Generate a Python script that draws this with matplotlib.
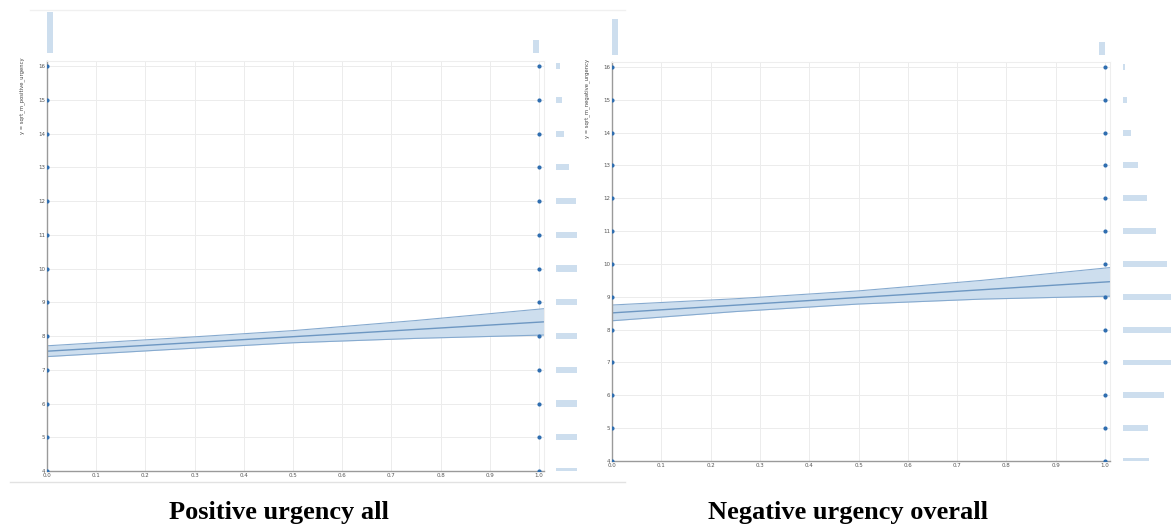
import matplotlib.pyplot as plt
from matplotlib.lines import Line2D

W, H = 1171, 527

# data
levels = [4, 5, 6, 7, 8, 9, 10, 11, 12, 13, 14, 15, 16]
group_x = [0, 1]
band_x = [0, 0.25, 0.5, 0.75, 1.01]

pos_fit = [7.55, 7.765, 7.98, 8.195, 8.42]
pos_lo = [7.39, 7.60, 7.80, 7.93, 8.03]
pos_hi = [7.71, 7.93, 8.16, 8.46, 8.81]
pos_group_counts = [315, 100]
pos_level_counts = [24, 26, 28, 30, 30, 28, 26, 23, 20, 13, 8, 6, 4]
pos_label = "y = sqrt_m_positive_urgency"
pos_title = "Positive urgency all"

neg_fit = [8.51, 8.745, 8.98, 9.215, 9.46]
neg_lo = [8.27, 8.55, 8.78, 8.93, 9.02]
neg_hi = [8.75, 8.94, 9.18, 9.50, 9.89]
neg_group_counts = [280, 100]
neg_level_counts = [26, 25, 41, 52, 56, 53, 44, 33, 24, 15, 8, 4, 2]
neg_label = "y = sqrt_m_negative_urgency"
neg_title = "Negative urgency overall"

dot_c = "#2f6eb0"
fill_c = "#cddeee"
edge_c = "#86aacf"
line_c = "#6d97c2"

fig = plt.figure(figsize=(W / 100, H / 100), dpi=100)


def box(x0, y0, x1, y1):
    # pixel box (top-left origin) -> figure fraction rect
    return [x0 / W, 1 - y1 / H, (x1 - x0) / W, (y1 - y0) / H]


def panel(main, top, side, fit, lo, hi, gcounts, lcounts, top_max, side_max, label, label_xy, title, title_x):
    ax = fig.add_axes(box(*main))
    ax.set_xlim(0, 1.0101)
    ax.set_ylim(4, 16.15)
    ax.set_xticks([i / 10 for i in range(11)])
    ax.set_yticks(levels)
    ax.grid(color="#ececec", lw=0.7)
    ax.set_axisbelow(True)
    ax.fill_between(band_x, lo, hi, color=fill_c, lw=0)
    ax.plot(band_x, lo, color=edge_c, lw=0.8)
    ax.plot(band_x, hi, color=edge_c, lw=0.8)
    ax.plot(band_x, fit, color=line_c, lw=1.0)
    for gx in group_x:
        ax.scatter([gx] * len(levels), levels, s=9, color=dot_c, zorder=5, lw=0)
    ax.tick_params(length=0, labelsize=4, pad=1.5, colors="#555555")
    for s in ["top", "right"]:
        ax.spines[s].set_color("#eeeeee")
        ax.spines[s].set_linewidth(0.8)
    for s in ["left", "bottom"]:
        ax.spines[s].set_color("#9a9a9a")
        ax.spines[s].set_linewidth(1.0)

    axt = fig.add_axes(box(*top))
    axt.bar([0], [gcounts[0]], width=0.012, align="edge", color=fill_c)
    axt.bar([1], [gcounts[1]], width=-0.012, align="edge", color=fill_c)
    axt.set_xlim(0, 1.0101)
    axt.set_ylim(0, top_max)
    axt.axis("off")

    axs = fig.add_axes(box(*side))
    axs.barh(levels, lcounts, height=0.18, color=fill_c)
    axs.set_ylim(4, 16.15)
    axs.set_xlim(0, side_max)
    axs.axis("off")

    fig.text(label_xy[0] / W, 1 - label_xy[1] / H, label, rotation=90,
             fontsize=3.8, color="#444444", ha="center", va="center")
    fig.text(title_x / W, 1 - 512 / H, title, fontsize=19, fontweight="bold",
             family="Liberation Serif", ha="center", va="center")


panel((47, 61, 544, 471), (47, 12, 544, 53), (556, 61, 577, 471),
      pos_fit, pos_lo, pos_hi, pos_group_counts, pos_level_counts, 315, 21,
      pos_label, (22, 96), pos_title, 279)
panel((612, 62, 1110, 461), (612, 19, 1110, 55), (1123, 62, 1171, 461),
      neg_fit, neg_lo, neg_hi, neg_group_counts, neg_level_counts, 280, 48,
      neg_label, (587, 98), neg_title, 848)

# faint screenshot frame lines
fig.add_artist(Line2D([30 / W, 625 / W], [1 - 10 / H, 1 - 10 / H], color="#f0f0f0", lw=1))
fig.add_artist(Line2D([10 / W, 625 / W], [1 - 482 / H, 1 - 482 / H], color="#e2e2e2", lw=1))

fig.savefig("out.png", dpi=100)
